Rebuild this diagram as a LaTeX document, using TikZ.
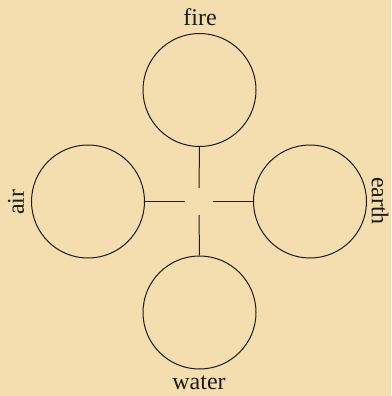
\documentclass[tikz,border=0pt]{standalone}
\usepackage{fontspec}
\setmainfont{Liberation Serif}
\definecolor{parch}{HTML}{F4DEB0}
\definecolor{ink}{HTML}{1E1A18}
\begin{document}
\begin{tikzpicture}[x=1pt,y=-1pt,
  elem/.style={circle,draw=ink,line width=1pt,minimum size=113pt,inner sep=0pt},
  conn/.style={draw=ink,line width=1pt},
  lab/.style={text=ink,font=\fontsize{24}{24}\selectfont,inner sep=0pt}]
\fill[parch] (0,0) rectangle (391,396);
\useasboundingbox (0,0) rectangle (391,396);
\node[elem] (fire) at (199.5,90) {};
\node[elem] (air) at (88,201.5) {};
\node[elem] (earth) at (310,201.5) {};
\node[elem] (water) at (199.5,312.5) {};
\coordinate (ct) at (199,188);
\coordinate (cb) at (199,215);
\coordinate (cl) at (185,201.5);
\coordinate (cr) at (213,201.5);
\draw[conn] (fire.south) -- (ct);
\draw[conn] (water.north) -- (cb);
\draw[conn] (air.east) -- (cl);
\draw[conn] (earth.west) -- (cr);
\node[lab] (tfire) at (200,17) {fire};
\node[lab,rotate=90] (tair) at (16,202) {air};
\node[lab,rotate=-90] (tearth) at (380,201) {earth};
\node[lab] (twater) at (199,383) {water};
\end{tikzpicture}
\end{document}
